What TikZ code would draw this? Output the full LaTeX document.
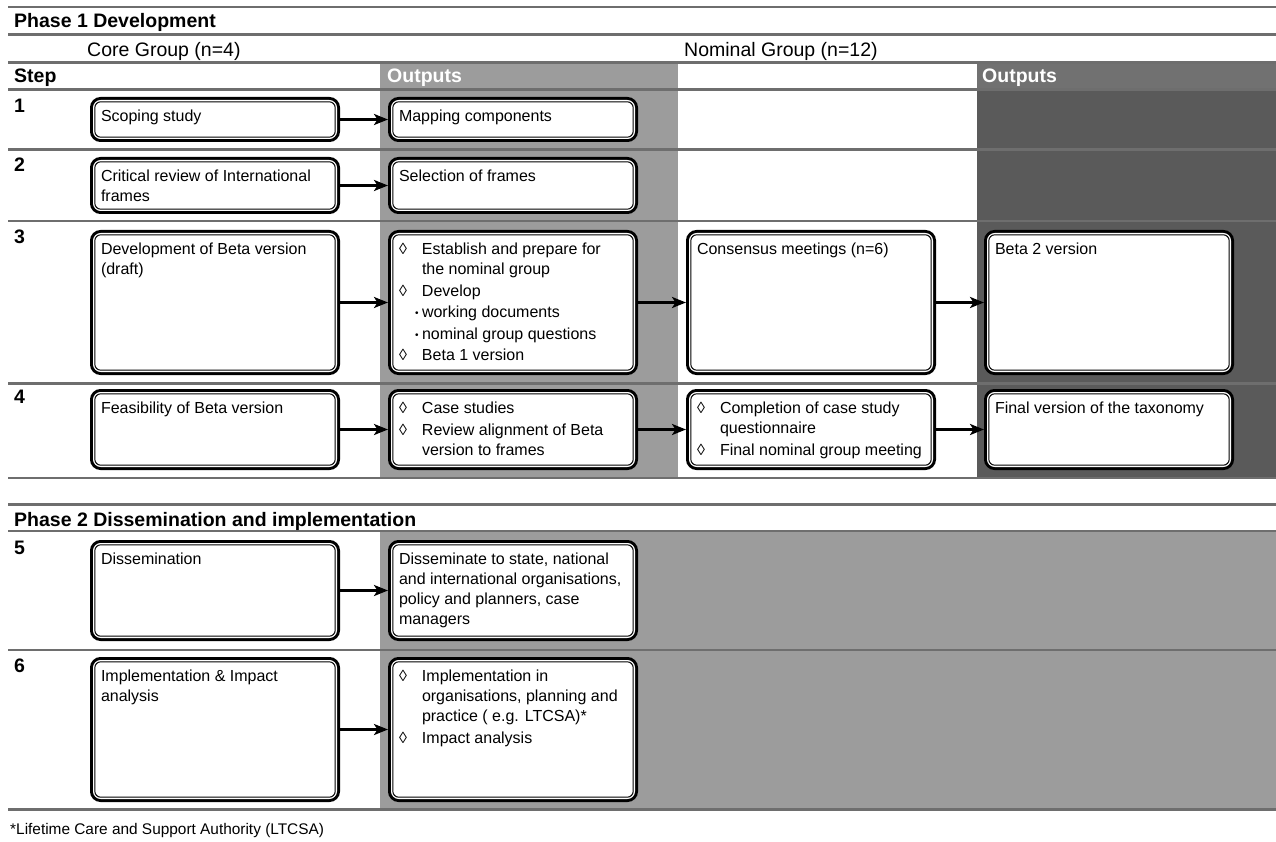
\documentclass[tikz,border=0pt]{standalone}
\usepackage{fontspec}
\setmainfont{Liberation Sans}
\usetikzlibrary{arrows.meta}

\definecolor{midgray}{HTML}{9C9C9C}
\definecolor{darkgray}{HTML}{5A5A5A}
\definecolor{headgray}{HTML}{717171}
\definecolor{rulegray}{HTML}{6E6E6E}

\newcommand{\dia}[1]{\hangindent=23pt\hangafter=1\makebox[23pt][l]{◊}{\let\\\newline#1}\par}
\newcommand{\dotitem}[1]{\hspace*{16pt}\makebox[7pt][l]{\raisebox{1pt}{\fontsize{10}{10}\selectfont •}}#1\par}

\tikzset{
	cellbox/.style={draw=black,line width=1pt,fill=white,rounded corners=6pt,
		inner xsep=6.2pt,inner ysep=6pt,outer sep=4.8pt,anchor=north west,
		preaction={draw=black,line width=9.6pt},
		preaction={draw=white,line width=3.6pt},
		font=\fontsize{16}{20}\selectfont,
		execute at begin node={\begin{minipage}[t][\dimexpr#1pt-21.6pt\relax][t]{228pt}\raggedright\parskip=1.5pt\strut},
		execute at end node={\end{minipage}}},
	head/.style={anchor=base west,inner sep=0pt,font=\fontsize{19.5}{23}\selectfont\bfseries},
	group/.style={anchor=base west,inner sep=0pt,font=\fontsize{19.5}{23}\selectfont},
	rule/.style={draw=rulegray,line width=2.8pt},
	flow/.style={line width=2.8pt,-{Stealth[length=14pt,width=11pt,inset=3.5pt]}}
}

\begin{document}
\begin{tikzpicture}[x=1pt,y=-1pt]
	\useasboundingbox (0,0) rectangle (1276,842);
	
	%SHADING
	\fill[midgray] (380,62.5) rectangle (678,478);
	\fill[headgray] (977,62.5) rectangle (1276,89.5);
	\fill[darkgray] (977,89.5) rectangle (1276,478);
	\fill[midgray] (380,531) rectangle (1276,809.5);
	
	%RULES
	\foreach \y in {7,34.5,62.5,89.5,149.5,221,383.5,478,504.5,531,650,809.5}
	\draw[rule] (8,\y)--(1276,\y);
	
	%HEADINGS
	\node[head] (ph1) at (14,28) {Phase 1 Development};
	\node[group] (core) at (87,57) {Core Group (n=4)};
	\node[group] (nominal) at (684,57) {Nominal Group (n=12)};
	\node[head] (step) at (14,83) {Step};
	\node[head,text=white] (outA) at (387,83) {Outputs};
	\node[head,text=white] (outB) at (982,83) {Outputs};
	\node[head] (ph2) at (14,526) {Phase 2 Dissemination and implementation};
	%
	\foreach \n/\y in {1/112.5,2/172,3/243.5,4/403,5/554,6/672}	%step numbers
	\node[head] (num\n) at (14,\y) {\n};
	
	%STEP 1-2
	\node[cellbox=45] (s1) at (90,97) {Scoping study};
	\node[cellbox=45] (o1) at (388,97) {Mapping components};
	\node[cellbox=57] (s2) at (90,157) {Critical review of International\\frames};
	\node[cellbox=57] (o2) at (388,157) {Selection of frames};
	
	%STEP 3
	\node[cellbox=145] (s3) at (90,230) {Development of Beta version\\(draft)};
	\node[cellbox=145] (o3) at (388,230) {\dia{Establish and prepare for\\the nominal group}\dia{Develop}\dotitem{working documents}\dotitem{nominal group questions}\dia{Beta 1 version}};
	\node[cellbox=145] (n3) at (686,230) {Consensus meetings (n=6)};
	\node[cellbox=145] (f3) at (984,230) {Beta 2 version};
	
	%STEP 4
	\node[cellbox=81] (s4) at (90,389) {Feasibility of Beta version};
	\node[cellbox=81] (o4) at (388,389) {\dia{Case studies}\dia{Review alignment of Beta\\version to frames}};
	\node[cellbox=81] (n4) at (686,389) {\dia{Completion of case study\\questionnaire}\dia{Final nominal group meeting}};
	\node[cellbox=81] (f4) at (984,389) {Final version of the taxonomy};
	
	%STEP 5-6
	\node[cellbox=101] (s5) at (90,540) {Dissemination};
	\node[cellbox=101] (o5) at (388,540) {Disseminate to state, national\\and international organisations,\\policy and planners, case\\managers};
	\node[cellbox=145] (s6) at (90,657) {Implementation \& Impact\\analysis};
	\node[cellbox=145] (o6) at (388,657) {\dia{Implementation in\\organisations, planning and\\practice ( e.g. LTCSA)*}\dia{Impact analysis}};
	
	%ARROWS
	\foreach \a/\b in {s1/o1,s2/o2,s3/o3,s4/o4,s5/o5,s6/o6,o3/n3,n3/f3,o4/n4,n4/f4}
	\draw[flow] (\a.east)--(\b.west);
	
	%FOOTNOTE
	\node[anchor=base west,inner sep=0pt,font=\fontsize{15.4}{18}\selectfont] (note) at (10,834) {*Lifetime Care and Support Authority (LTCSA)};
\end{tikzpicture}
\end{document}
